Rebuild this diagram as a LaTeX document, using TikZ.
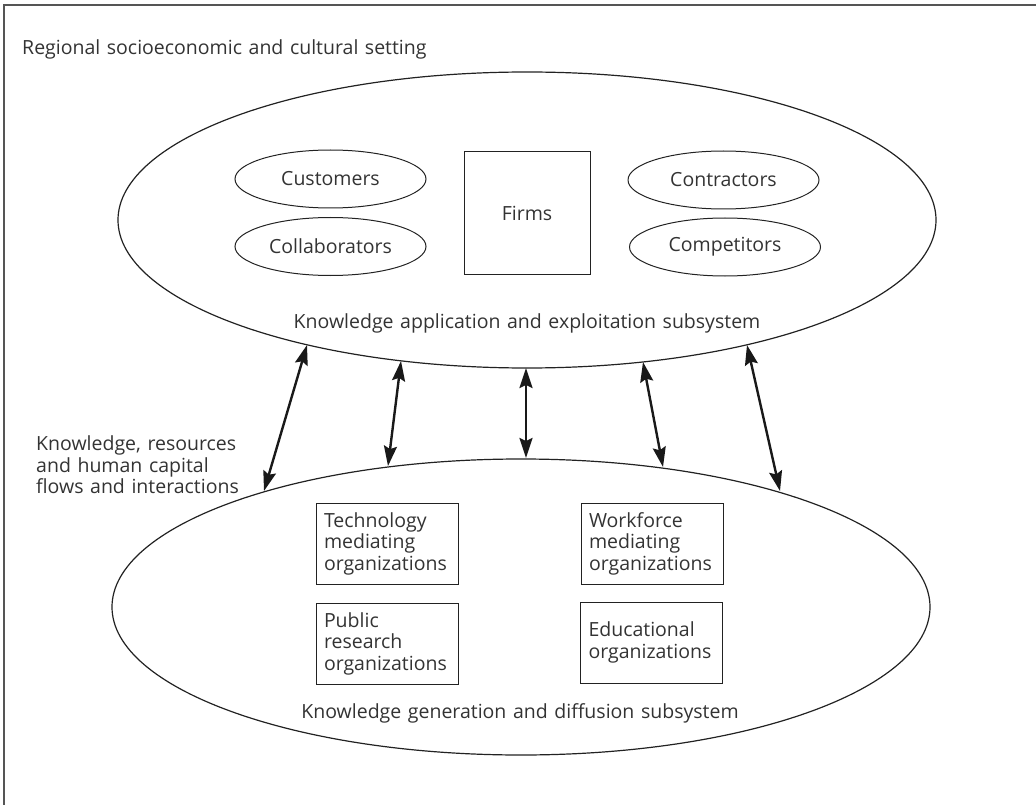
\documentclass[tikz,border=0pt]{standalone}
\usepackage{fontspec}
\setmainfont[WordSpace=1.3]{Open Sans}
\usetikzlibrary{shapes.geometric,arrows.meta}
\definecolor{ink}{HTML}{333333}
\definecolor{edge}{HTML}{222222}
\definecolor{framegray}{HTML}{555555}

\begin{document}
\begin{tikzpicture}[x=1pt,y=-1pt,
  every node/.style={font=\fontsize{19.5}{21.5}\selectfont, text=ink},
  plain/.style={inner sep=0pt},
  sys/.style={draw=edge, line width=1.2pt, ellipse, minimum width=818pt, minimum height=296pt, inner sep=0pt},
  actor/.style={draw=edge, line width=1pt, ellipse, minimum width=191pt, minimum height=58pt, inner sep=0pt},
  firmbox/.style={draw=edge, line width=1pt, minimum width=126pt, minimum height=122pt, inner sep=0pt},
  orgbox/.style={draw=edge, line width=1pt, minimum width=142pt, minimum height=81pt, inner sep=0pt, text width=126pt, align=left},
  flow/.style={draw=black!90, line width=2.4pt, {Stealth[length=20pt,width=13pt,inset=3pt]}-{Stealth[length=20pt,width=13pt,inset=3pt]}},
  frame/.style={draw=framegray, line width=1.4pt},
]
\useasboundingbox (0,0) rectangle (1036,805);

% outer setting frame
\coordinate (fbl) at (4,805);
\coordinate (ftl) at (4,5);
\coordinate (ftr) at (1036,5);
\draw[frame] (fbl) -- (ftl) -- (ftr);
\node[plain, anchor=west] (title) at (22,49) {Regional socioeconomic and cultural setting};

% knowledge application and exploitation subsystem
\node[sys] (app) at (527,220) {};
\node[actor] (cust) at (330.5,179) {Customers};
\node[actor] (coll) at (330.5,246.5) {Collaborators};
\node[firmbox] (firms) at (527,213) {Firms};
\node[actor] (contr) at (723.5,180) {Contractors};
\node[actor] (comp) at (725,247) {Competitors};
\node[plain] (apptext) at (527,323) {Knowledge application and exploitation subsystem};

% knowledge generation and diffusion subsystem
\node[sys] (gen) at (521,607) {};
\node[orgbox] (tech) at (387,543.5) {Technology\\mediating\\organizations};
\node[orgbox] (work) at (652,543.5) {Workforce\\mediating\\organizations};
\node[orgbox] (pub) at (387,643.5) {Public\\research\\organizations};
\node[orgbox] (edu) at (651.5,642.5) {Educational\\organizations};
\node[plain] (gentext) at (520,713) {Knowledge generation and diffusion subsystem};

% flows between the two subsystems
\node[plain, anchor=west, align=left] (flows) at (36,465) {Knowledge, resources\\and human capital\\flows and interactions};
\coordinate (t1) at (307,345);  \coordinate (b1) at (264,491);
\coordinate (t2) at (401,361);  \coordinate (b2) at (388,466);
\coordinate (t3) at (526,368);  \coordinate (b3) at (526,458);
\coordinate (t4) at (643,362);  \coordinate (b4) at (663,467);
\coordinate (t5) at (747,345);  \coordinate (b5) at (780,491);
\foreach \i in {1,...,5} \draw[flow] (t\i) -- (b\i);
\end{tikzpicture}
\end{document}
